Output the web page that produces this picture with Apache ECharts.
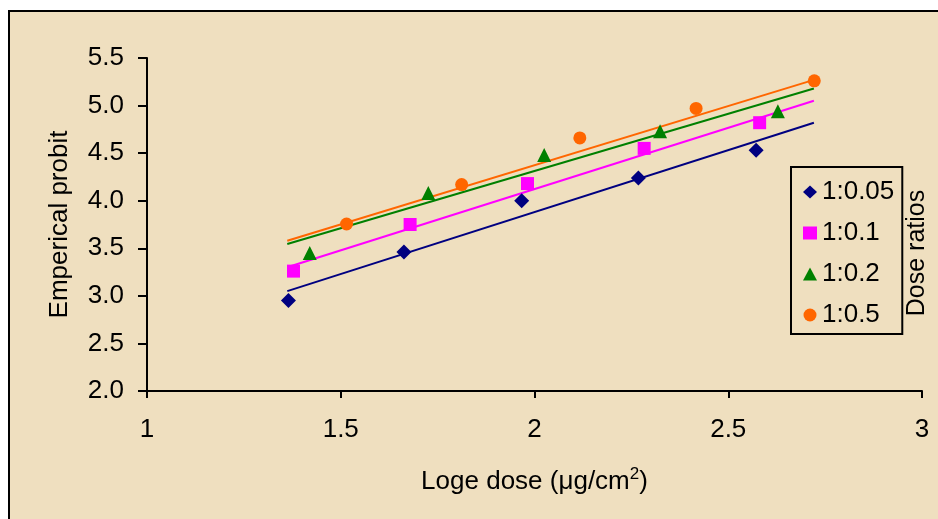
<!DOCTYPE html>
<html>
<head>
<meta charset="utf-8">
<script src="https://cdn.jsdelivr.net/npm/echarts@6/dist/echarts.min.js"></script>
<style>
  html, body { margin: 0; padding: 0; background: #fff; }
  #chart { width: 938px; height: 519px; }
</style>
</head>
<body>
<div id="chart"></div>
<script>
// dose ratio series names
var ratioNames = ['1:0.05', '1:0.1', '1:0.2', '1:0.5'];

// observed points (loge dose, emperical probit)
var dose005 = [1.365, 1.663, 1.967, 2.268, 2.572];
var probit005 = [2.95, 3.46, 4.00, 4.24, 4.53];
var dose01 = [1.378, 1.679, 1.982, 2.283, 2.581];
var probit01 = [3.26, 3.75, 4.18, 4.55, 4.82];
var dose02 = [1.420, 1.726, 2.025, 2.324, 2.628];
var probit02 = [3.45, 4.08, 4.48, 4.73, 4.94];
var dose05 = [1.515, 1.812, 2.117, 2.417, 2.722];
var probit05 = [3.755, 4.17, 4.66, 4.97, 5.26];

// fitted lines, start and end
var fitDose = [1.362, 2.721];
var fit005 = [3.05, 4.82];
var fit01 = [3.30, 5.05];
var fit02 = [3.545, 5.18];
var fit05 = [3.58, 5.27];

var colors = ['#000080', '#ff00ff', '#008000', '#ff6600'];
var symbols = ['diamond', 'rect', 'triangle', 'circle'];
var symbolSizes = [15, 13, 14, 13];
var font = 'Liberation Sans, Arial, sans-serif';

function pairs(xs, ys) {
    return xs.map(function (x, i) { return [x, ys[i]]; });
}

var pointSets = [pairs(dose005, probit005), pairs(dose01, probit01), pairs(dose02, probit02), pairs(dose05, probit05)];
var fitSets = [pairs(fitDose, fit005), pairs(fitDose, fit01), pairs(fitDose, fit02), pairs(fitDose, fit05)];

var series = [];
fitSets.forEach(function (d, i) {
    series.push({
        name: ratioNames[i] + ' fit',
        type: 'line',
        data: d,
        symbol: 'none',
        silent: true,
        lineStyle: { color: colors[i], width: 2 },
        z: 2
    });
});
pointSets.forEach(function (d, i) {
    series.push({
        name: ratioNames[i],
        type: 'scatter',
        data: d,
        symbol: symbols[i],
        symbolSize: symbolSizes[i],
        itemStyle: { color: colors[i], opacity: 1 },
        z: 3
    });
});

var axisLine = { show: true, lineStyle: { color: '#000', width: 2 } };

var myChart = echarts.init(document.getElementById('chart'));
var option = {
    backgroundColor: '#fff',
    animation: false,
    graphic: [
        {
            type: 'rect',
            z: -10,
            shape: { x: 9, y: 11, width: 940, height: 520 },
            style: { fill: '#efdfbf', stroke: '#000', lineWidth: 2 }
        },
        {
            type: 'text',
            x: 917,
            y: 253,
            rotation: Math.PI / 2,
            style: {
                text: 'Dose ratios',
                font: '25px ' + font,
                fill: '#000',
                align: 'center',
                verticalAlign: 'middle'
            }
        }
    ],
    grid: { left: 147, right: 16, top: 58, bottom: 128 },
    xAxis: {
        type: 'value',
        min: 1,
        max: 3,
        interval: 0.5,
        name: '{t|Loge dose (\u03bcg/cm}{s|2}{t|)}',
        nameLocation: 'middle',
        nameGap: 75,
        nameTextStyle: {
            rich: {
                t: { fontSize: 26, fontFamily: font, color: '#000', verticalAlign: 'bottom' },
                s: { fontSize: 17, fontFamily: font, color: '#000', verticalAlign: 'top', padding: [0, 0, 12, 0] }
            }
        },
        axisLine: axisLine,
        axisTick: { show: true, inside: false, length: 7, lineStyle: { color: '#000', width: 2 } },
        axisLabel: { color: '#000', fontSize: 26, fontFamily: font, margin: 26 },
        splitLine: { show: false }
    },
    yAxis: {
        type: 'value',
        min: 2,
        max: 5.5,
        interval: 0.5,
        name: 'Emperical probit',
        nameLocation: 'middle',
        nameGap: 74,
        nameTextStyle: { fontSize: 26, fontFamily: font, color: '#000' },
        axisLine: axisLine,
        axisTick: { show: true, inside: false, length: 9, lineStyle: { color: '#000', width: 2 } },
        axisLabel: {
            color: '#000', fontSize: 26, fontFamily: font, margin: 23,
            formatter: function (v) { return v.toFixed(1); }
        },
        splitLine: { show: false }
    },
    legend: {
        data: ratioNames.map(function (n, i) { return { name: n, icon: symbols[i] }; }),
        orient: 'vertical',
        left: 791,
        top: 167,
        padding: [12, 8, 6, 12],
        itemGap: 15,
        itemWidth: 14,
        itemHeight: 13,
        borderColor: '#000',
        borderWidth: 2,
        textStyle: { color: '#000', fontSize: 26, fontFamily: font }
    },
    series: series
};
myChart.setOption(option);
</script>
</body>
</html>
